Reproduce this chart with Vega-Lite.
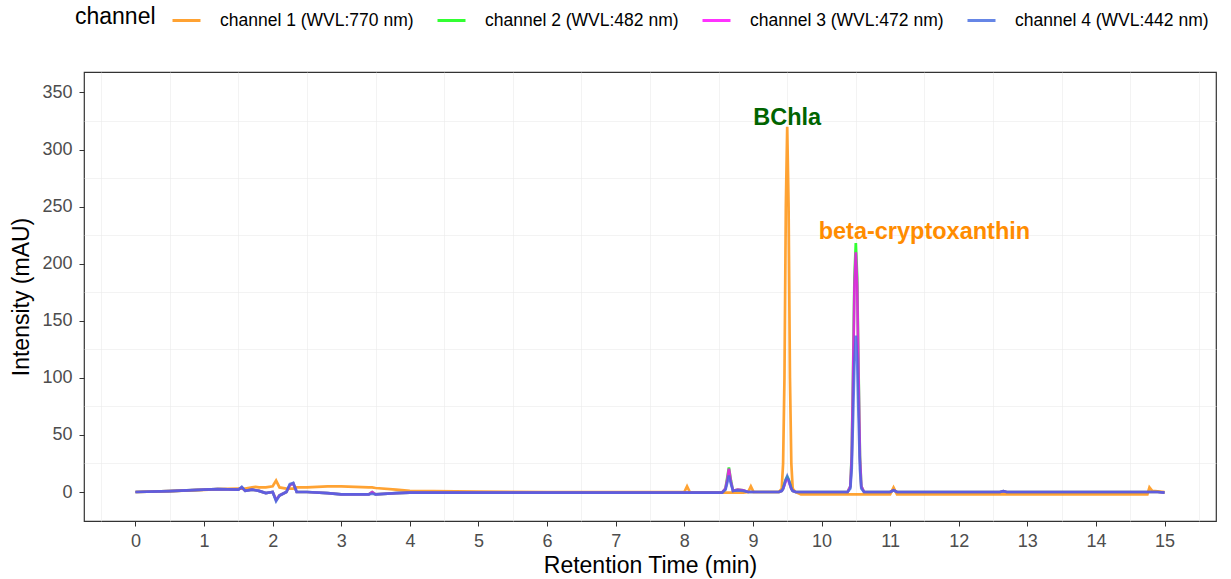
{
  "$schema": "https://vega.github.io/schema/vega-lite/v6.json",
  "width": 1132,
  "height": 449,
  "autosize": "none",
  "padding": {"left": 84, "top": 72, "right": 15, "bottom": 58},
  "background": "white",
  "config": {
    "font": "Liberation Sans",
    "view": {"stroke": "#333333", "strokeWidth": 1.2},
    "axis": {
      "domain": false,
      "gridColor": "#EBEBEB",
      "tickColor": "#333333",
      "tickSize": 5,
      "labelColor": "#4D4D4D",
      "labelFontSize": 18,
      "titleFontSize": 23,
      "titleFontWeight": "normal",
      "titleColor": "#000000",
      "labelOverlap": false
    }
  },
  "resolve": {"axis": {"x": "independent", "y": "independent"}},
  "layer": [
    {
      "data": {"values": [{"t": 0, "intensity": 0}]},
      "mark": {"type": "point", "opacity": 0},
      "encoding": {
        "x": {
          "field": "t",
          "type": "quantitative",
          "scale": {"domain": [-0.75, 15.75], "nice": false, "zero": false},
          "axis": {"orient": "top", "values": [-0.5, 0.5, 1.5, 2.5, 3.5, 4.5, 5.5, 6.5, 7.5, 8.5, 9.5, 10.5, 11.5, 12.5, 13.5, 14.5, 15.5], "labels": false, "ticks": false, "domain": false, "title": null, "grid": true, "gridWidth": 0.6}
        },
        "y": {
          "field": "intensity",
          "type": "quantitative",
          "scale": {"domain": [-25.4, 367.9], "nice": false, "zero": false},
          "axis": {"orient": "right", "values": [25, 75, 125, 175, 225, 275, 325], "labels": false, "ticks": false, "domain": false, "title": null, "grid": true, "gridWidth": 0.6}
        }
      }
    },
    {
      "data": {
        "values": [
          {"t": 0, "ch1": 0, "ch2": 0, "ch3": 0, "ch4": 0},
          {"t": 0.5, "ch1": 0.8, "ch2": 0.8, "ch3": 0.8, "ch4": 0.8},
          {"t": 1.0, "ch1": 1.8, "ch2": 2, "ch3": 2, "ch4": 2},
          {"t": 1.2, "ch1": 2.5, "ch2": 2.5, "ch3": 2.5, "ch4": 2.5},
          {"t": 1.5, "ch1": 3, "ch2": 2, "ch3": 2, "ch4": 2},
          {"t": 1.55, "ch1": 3, "ch2": 4, "ch3": 4, "ch4": 4.5},
          {"t": 1.6, "ch1": 3, "ch2": 1, "ch3": 1, "ch4": 1},
          {"t": 1.7, "ch1": 4, "ch2": 2, "ch3": 2, "ch4": 2},
          {"t": 1.75, "ch1": 4.5, "ch2": 1.5, "ch3": 1.5, "ch4": 1.5},
          {"t": 1.8, "ch1": 4, "ch2": 1, "ch3": 1, "ch4": 1},
          {"t": 1.9, "ch1": 4, "ch2": -1, "ch3": -1, "ch4": -1},
          {"t": 2.0, "ch1": 5, "ch2": 0, "ch3": 0, "ch4": 0},
          {"t": 2.05, "ch1": 10, "ch2": -7, "ch3": -7, "ch4": -8},
          {"t": 2.1, "ch1": 4, "ch2": -3, "ch3": -3, "ch4": -3},
          {"t": 2.2, "ch1": 3, "ch2": 0, "ch3": 0, "ch4": 0},
          {"t": 2.25, "ch1": 3, "ch2": 6, "ch3": 6, "ch4": 7},
          {"t": 2.3, "ch1": 3, "ch2": 7.5, "ch3": 7.5, "ch4": 8},
          {"t": 2.35, "ch1": 4, "ch2": 0, "ch3": 0, "ch4": 0},
          {"t": 2.5, "ch1": 4, "ch2": 0, "ch3": 0, "ch4": 0},
          {"t": 2.8, "ch1": 5, "ch2": -1, "ch3": -1, "ch4": -1},
          {"t": 3.0, "ch1": 5, "ch2": -2, "ch3": -2, "ch4": -2},
          {"t": 3.4, "ch1": 4, "ch2": -2, "ch3": -2, "ch4": -2},
          {"t": 3.45, "ch1": 4, "ch2": 0, "ch3": 0, "ch4": -1.5},
          {"t": 3.5, "ch1": 3.5, "ch2": -2, "ch3": -2, "ch4": -2},
          {"t": 3.8, "ch1": 2, "ch2": -1, "ch3": -1, "ch4": -1},
          {"t": 4.0, "ch1": 1, "ch2": -0.5, "ch3": -0.5, "ch4": -0.5},
          {"t": 5.0, "ch1": 0.3, "ch2": -0.5, "ch3": -0.5, "ch4": -0.5},
          {"t": 6.0, "ch1": 0, "ch2": -0.5, "ch3": -0.5, "ch4": -0.5},
          {"t": 7.0, "ch1": 0, "ch2": -0.5, "ch3": -0.5, "ch4": -0.5},
          {"t": 8.0, "ch1": 0, "ch2": -0.5, "ch3": -0.5, "ch4": -0.5},
          {"t": 8.04, "ch1": 5, "ch2": -0.5, "ch3": -0.5, "ch4": -0.5},
          {"t": 8.08, "ch1": 0, "ch2": -0.5, "ch3": -0.5, "ch4": -0.5},
          {"t": 8.55, "ch1": -0.5, "ch2": -0.5, "ch3": -0.5, "ch4": -0.5},
          {"t": 8.6, "ch1": -0.5, "ch2": 3, "ch3": 3, "ch4": 2},
          {"t": 8.63, "ch1": -0.5, "ch2": 14, "ch3": 12, "ch4": 9},
          {"t": 8.65, "ch1": -0.5, "ch2": 21.5, "ch3": 20.5, "ch4": 14.5},
          {"t": 8.68, "ch1": -0.5, "ch2": 10, "ch3": 9, "ch4": 7},
          {"t": 8.71, "ch1": -0.5, "ch2": 1, "ch3": 1, "ch4": 1},
          {"t": 8.78, "ch1": -0.5, "ch2": 2, "ch3": 2, "ch4": 1.5},
          {"t": 8.86, "ch1": -0.5, "ch2": 1.5, "ch3": 1.5, "ch4": 1},
          {"t": 8.93, "ch1": 0, "ch2": 0, "ch3": 0, "ch4": 0},
          {"t": 8.97, "ch1": 5, "ch2": 0, "ch3": 0, "ch4": 0},
          {"t": 9.01, "ch1": 0, "ch2": 0, "ch3": 0, "ch4": 0},
          {"t": 9.38, "ch1": 0, "ch2": 0, "ch3": 0, "ch4": 0},
          {"t": 9.42, "ch1": 3, "ch2": 1, "ch3": 1, "ch4": 1},
          {"t": 9.44, "ch1": 25, "ch2": 3, "ch3": 3, "ch4": 3},
          {"t": 9.46, "ch1": 100, "ch2": 7, "ch3": 6, "ch4": 7},
          {"t": 9.48, "ch1": 250, "ch2": 11, "ch3": 10, "ch4": 11},
          {"t": 9.5, "ch1": 320, "ch2": 13, "ch3": 11, "ch4": 14},
          {"t": 9.52, "ch1": 250, "ch2": 11, "ch3": 10, "ch4": 11},
          {"t": 9.54, "ch1": 100, "ch2": 7, "ch3": 6, "ch4": 7},
          {"t": 9.56, "ch1": 25, "ch2": 3, "ch3": 3, "ch4": 3},
          {"t": 9.58, "ch1": 3, "ch2": 1, "ch3": 1, "ch4": 1},
          {"t": 9.62, "ch1": 0, "ch2": 0, "ch3": 0, "ch4": 0},
          {"t": 9.7, "ch1": -2, "ch2": 0, "ch3": 0, "ch4": 0},
          {"t": 10.38, "ch1": -2, "ch2": 0, "ch3": 0, "ch4": 0},
          {"t": 10.42, "ch1": -2, "ch2": 5, "ch3": 5, "ch4": 3},
          {"t": 10.44, "ch1": -2, "ch2": 32, "ch3": 30, "ch4": 20},
          {"t": 10.46, "ch1": -2, "ch2": 105, "ch3": 100, "ch4": 65},
          {"t": 10.48, "ch1": -2, "ch2": 188, "ch3": 180, "ch4": 115},
          {"t": 10.5, "ch1": -2, "ch2": 218, "ch3": 210, "ch4": 137},
          {"t": 10.52, "ch1": -2, "ch2": 188, "ch3": 180, "ch4": 115},
          {"t": 10.54, "ch1": -2, "ch2": 105, "ch3": 100, "ch4": 65},
          {"t": 10.56, "ch1": -2, "ch2": 32, "ch3": 30, "ch4": 20},
          {"t": 10.58, "ch1": -2, "ch2": 5, "ch3": 5, "ch4": 3},
          {"t": 10.62, "ch1": -2, "ch2": 0, "ch3": 0, "ch4": 0},
          {"t": 11.0, "ch1": -2, "ch2": 0, "ch3": 0, "ch4": 0},
          {"t": 11.05, "ch1": 4, "ch2": 1.5, "ch3": 1.5, "ch4": 1.5},
          {"t": 11.1, "ch1": -2, "ch2": 0, "ch3": 0, "ch4": 0},
          {"t": 12.6, "ch1": -2, "ch2": 0, "ch3": 0, "ch4": 0},
          {"t": 12.65, "ch1": -2, "ch2": 0.8, "ch3": 0.8, "ch4": 0.8},
          {"t": 12.7, "ch1": -2, "ch2": 0, "ch3": 0, "ch4": 0},
          {"t": 14.75, "ch1": -2, "ch2": 0, "ch3": 0, "ch4": 0},
          {"t": 14.78, "ch1": 4, "ch2": 0, "ch3": 0, "ch4": 0},
          {"t": 14.82, "ch1": 1, "ch2": 0, "ch3": 0, "ch4": 0},
          {"t": 14.9, "ch1": 0.5, "ch2": 0, "ch3": 0, "ch4": 0},
          {"t": 15.0, "ch1": 0, "ch2": -0.5, "ch3": -0.5, "ch4": -0.5}
        ]
      },
      "transform": [
        {"fold": ["ch1", "ch2", "ch3", "ch4"], "as": ["channel", "intensity"]}
      ],
      "mark": {"type": "line", "strokeWidth": 2.7, "opacity": 0.8},
      "encoding": {
        "x": {
          "field": "t",
          "type": "quantitative",
          "title": "Retention Time (min)",
          "scale": {"domain": [-0.75, 15.75], "nice": false, "zero": false},
          "axis": {
            "values": [0, 1, 2, 3, 4, 5, 6, 7, 8, 9, 10, 11, 12, 13, 14, 15],
            "format": "d",
            "gridWidth": 1.2,
            "labelPadding": 6,
            "titlePadding": 4
          }
        },
        "y": {
          "field": "intensity",
          "type": "quantitative",
          "title": "Intensity (mAU)",
          "scale": {"domain": [-25.4, 367.9], "nice": false, "zero": false},
          "axis": {
            "values": [0, 50, 100, 150, 200, 250, 300, 350],
            "format": "d",
            "gridWidth": 1.2,
            "labelPadding": 7,
            "titlePadding": 8
          }
        },
        "color": {
          "field": "channel",
          "type": "nominal",
          "scale": {
            "domain": ["ch1", "ch2", "ch3", "ch4"],
            "range": ["#FF8C00", "#00FF00", "#FF00FF", "#4169E1"]
          },
          "legend": {
            "title": "channel",
            "orient": "none",
            "legendX": -9,
            "legendY": -67,
            "direction": "horizontal",
            "titleOrient": "left",
            "titleFontSize": 23,
            "titleFontWeight": "normal",
            "titleColor": "#000000",
            "titlePadding": 15,
            "labelFontSize": 17.5,
            "labelColor": "#000000",
            "labelLimit": 400,
            "symbolType": "stroke",
            "symbolSize": 784,
            "symbolStrokeWidth": 3,
            "labelOffset": 18,
            "columnPadding": 17,
            "labelExpr": "datum.value == 'ch1' ? 'channel 1 (WVL:770 nm)' : datum.value == 'ch2' ? 'channel 2 (WVL:482 nm)' : datum.value == 'ch3' ? 'channel 3 (WVL:472 nm)' : 'channel 4 (WVL:442 nm)'"
          }
        }
      }
    },
    {
      "data": {"values": [{"t": 9.5, "intensity": 328, "label": "BChla"}]},
      "mark": {"type": "text", "fontSize": 23.5, "fontWeight": "bold", "color": "#006400", "align": "center", "baseline": "middle"},
      "encoding": {
        "x": {"field": "t", "type": "quantitative", "axis": null},
        "y": {"field": "intensity", "type": "quantitative", "axis": null},
        "text": {"field": "label"}
      }
    },
    {
      "data": {"values": [{"t": 11.5, "intensity": 228, "label": "beta-cryptoxanthin"}]},
      "mark": {"type": "text", "fontSize": 23.5, "fontWeight": "bold", "color": "#FF8C00", "align": "center", "baseline": "middle"},
      "encoding": {
        "x": {"field": "t", "type": "quantitative", "axis": null},
        "y": {"field": "intensity", "type": "quantitative", "axis": null},
        "text": {"field": "label"}
      }
    }
  ]
}
